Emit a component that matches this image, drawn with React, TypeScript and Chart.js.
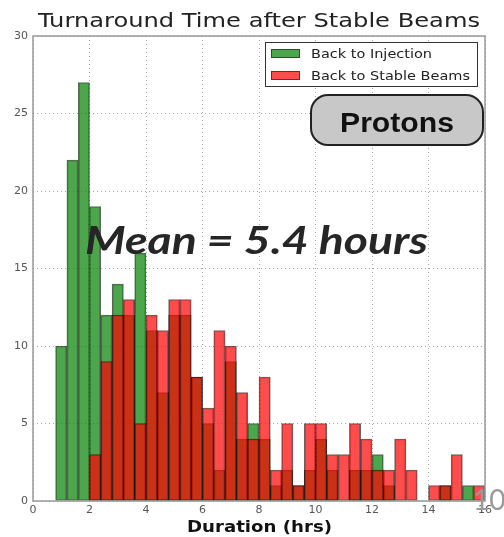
import React, { useEffect, useRef } from "react";
import { Chart, registerables } from "chart.js";
Chart.register(...registerables);

const binCenters = [0.2, 0.6, 1.0, 1.4, 1.8, 2.2, 2.6, 3.0, 3.4, 3.8, 4.2, 4.6, 5.0, 5.4, 5.8, 6.2, 6.6, 7.0, 7.4, 7.8, 8.2, 8.6, 9.0, 9.4, 9.8, 10.2, 10.6, 11.0, 11.4, 11.8, 12.2, 12.6, 13.0, 13.4, 13.8, 14.2, 14.6, 15.0, 15.4, 15.8];
const backToInjection = [0, 0, 10, 22, 27, 19, 12, 14, 12, 16, 11, 7, 12, 12, 8, 5, 2, 9, 4, 5, 4, 1, 2, 1, 2, 4, 2, 0, 2, 2, 3, 1, 0, 0, 0, 0, 1, 0, 1, 0];
const backToStableBeams = [0, 0, 0, 0, 0, 3, 9, 12, 13, 5, 12, 11, 13, 13, 8, 6, 11, 10, 7, 4, 8, 2, 5, 1, 5, 5, 3, 3, 5, 4, 2, 2, 4, 2, 0, 1, 1, 3, 0, 1];
const xTicks = [0, 2, 4, 6, 8, 10, 12, 14, 16];
const yTicks = [0, 5, 10, 15, 20, 25, 30];
const seriesLabels = ["Back to Injection", "Back to Stable Beams"];
const titleText = "Turnaround Time after Stable Beams";
const xAxisTitle = "Duration (hrs)";
const badgeText = "Protons";
const meanText = "Mean = 5.4 hours";
const pageNumber = "10";

const GREEN = "rgba(0,128,0,0.7)";
const RED = "rgba(255,0,0,0.7)";

function fitText(ctx: CanvasRenderingContext2D, text: string, font: string, x: number, y: number, width: number, color: string) {
  ctx.save();
  ctx.font = font;
  const w = ctx.measureText(text).width;
  const s = width / w;
  ctx.translate(x, y);
  ctx.scale(s, 1);
  ctx.textAlign = "left";
  ctx.textBaseline = "alphabetic";
  ctx.fillStyle = color;
  ctx.fillText(text, 0, 0);
  ctx.restore();
}

const decorPlugin = {
  id: "decor",
  afterDatasetsDraw(chart: any) {
    const ctx: CanvasRenderingContext2D = chart.ctx;
    const a = chart.chartArea;
    ctx.save();
    ctx.strokeStyle = "#999";
    ctx.lineWidth = 1.5;
    ctx.strokeRect(a.left, a.top, a.right - a.left, a.bottom - a.top);
    ctx.restore();
  },
  afterDraw(chart: any) {
    const ctx: CanvasRenderingContext2D = chart.ctx;
    fitText(ctx, titleText, "20px 'DejaVu Sans'", 38, 27, 442, "#222");
    fitText(ctx, xAxisTitle, "bold 15px 'DejaVu Sans'", 187, 532, 145, "#111");

    // legend
    ctx.save();
    ctx.fillStyle = "#fff";
    ctx.fillRect(265, 42, 212, 44);
    ctx.strokeStyle = "#333";
    ctx.lineWidth = 1;
    ctx.strokeRect(265.5, 42.5, 212, 44);
    ctx.fillStyle = GREEN;
    ctx.fillRect(271, 49, 29, 9);
    ctx.fillStyle = RED;
    ctx.fillRect(271, 71, 29, 9);
    ctx.strokeStyle = "rgba(0,0,0,0.5)";
    ctx.strokeRect(271.5, 49.5, 28, 8);
    ctx.strokeRect(271.5, 71.5, 28, 8);
    ctx.restore();
    fitText(ctx, seriesLabels[0], "13px 'DejaVu Sans'", 311, 57.5, 121, "#222");
    fitText(ctx, seriesLabels[1], "13px 'DejaVu Sans'", 311, 79.5, 159, "#222");

    // Protons badge
    ctx.save();
    const bx = 311, by = 95, bw = 172, bh = 50, r = 17;
    ctx.beginPath();
    ctx.moveTo(bx + r, by);
    ctx.lineTo(bx + bw - r, by);
    ctx.arcTo(bx + bw, by, bx + bw, by + r, r);
    ctx.lineTo(bx + bw, by + bh - r);
    ctx.arcTo(bx + bw, by + bh, bx + bw - r, by + bh, r);
    ctx.lineTo(bx + r, by + bh);
    ctx.arcTo(bx, by + bh, bx, by + bh - r, r);
    ctx.lineTo(bx, by + r);
    ctx.arcTo(bx, by, bx + r, by, r);
    ctx.closePath();
    ctx.fillStyle = "#c8c8c8";
    ctx.fill();
    ctx.strokeStyle = "#222";
    ctx.lineWidth = 2;
    ctx.stroke();
    ctx.restore();
    fitText(ctx, badgeText, "bold 28px 'Liberation Sans'", 340, 131.5, 114, "#111");

    // mean
    fitText(ctx, meanText, "italic bold 39px Lato", 85, 254, 343, "#262626");

    // page number
    ctx.save();
    ctx.font = "28px Lato";
    ctx.fillStyle = "#9a9a9a";
    ctx.textAlign = "left";
    ctx.textBaseline = "alphabetic";
    ctx.fillText(pageNumber, 473, 510);
    ctx.restore();
  },
};

export default function App() {
  const ref = useRef<HTMLCanvasElement>(null);
  useEffect(() => {
    if (!ref.current) return;
    const chart = new Chart(ref.current, {
      type: "bar",
      data: {
        datasets: [
          {
            label: seriesLabels[0],
            data: binCenters.map((x, i) => ({ x, y: backToInjection[i] })),
            backgroundColor: GREEN,
            borderColor: "rgba(0,0,0,0.6)",
            borderWidth: 1,
            borderSkipped: false,
            grouped: false,
            order: 1,
            barPercentage: 1,
            categoryPercentage: 1,
          } as any,
          {
            label: seriesLabels[1],
            data: binCenters.map((x, i) => ({ x, y: backToStableBeams[i] })),
            backgroundColor: RED,
            borderColor: "rgba(0,0,0,0.6)",
            borderWidth: 1,
            borderSkipped: false,
            grouped: false,
            order: 0,
            barPercentage: 1,
            categoryPercentage: 1,
          } as any,
        ],
      },
      options: {
        responsive: false,
        animation: false,
        layout: { padding: { left: 0, right: 19, top: 36, bottom: 15 } },
        plugins: { legend: { display: false }, tooltip: { enabled: false } },
        scales: {
          x: {
            type: "linear",
            min: 0,
            max: 16,
            offset: false,
            afterBuildTicks: (s: any) => {
              s.ticks = xTicks.map((v) => ({ value: v }));
            },
            afterFit: (s: any) => {
              s.height = 21;
            },
            ticks: { color: "#555", font: { family: "'DejaVu Sans'", size: 11 }, padding: 3, maxRotation: 0, autoSkip: false },
            grid: { color: "rgba(0,0,0,0.35)", drawTicks: false, lineWidth: 1, offset: false },
            border: { display: false, dash: [1, 3] },
          },
          y: {
            type: "linear",
            min: 0,
            max: 30,
            afterBuildTicks: (s: any) => {
              s.ticks = yTicks.map((v) => ({ value: v }));
            },
            afterFit: (s: any) => {
              s.width = 33;
            },
            ticks: { color: "#555", font: { family: "'DejaVu Sans'", size: 11 }, padding: 5 },
            grid: { color: "rgba(0,0,0,0.35)", drawTicks: false, lineWidth: 1 },
            border: { display: false, dash: [1, 3] },
          },
        },
      },
      plugins: [decorPlugin],
    });
    return () => chart.destroy();
  }, []);
  return (
    <div style={{ position: "absolute", left: 0, top: 0, width: 504, height: 537, background: "#fff" }}>
      <canvas ref={ref} width={504} height={537} style={{ width: 504, height: 537 }} />
    </div>
  );
}
